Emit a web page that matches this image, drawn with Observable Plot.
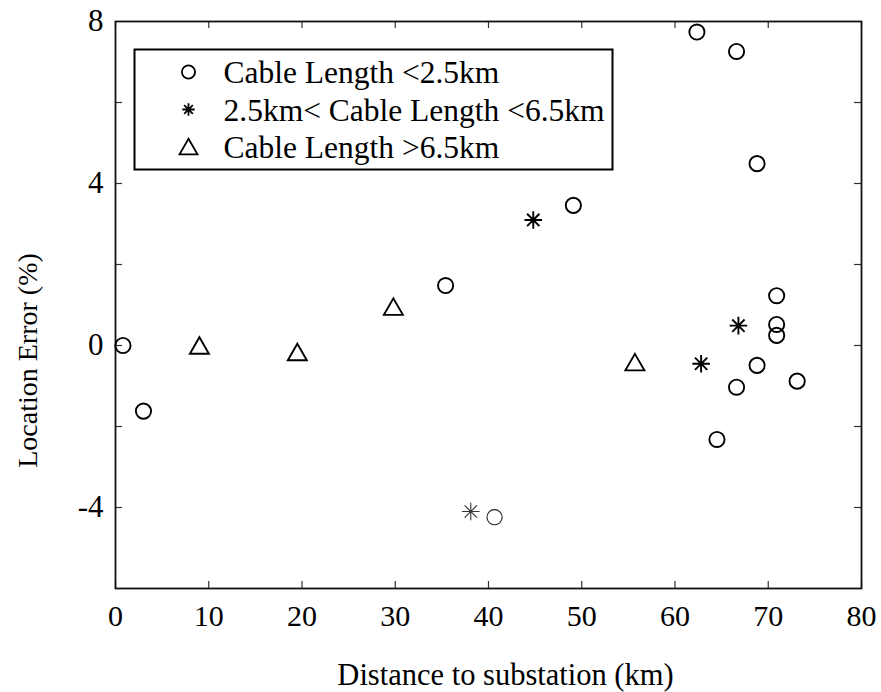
<!DOCTYPE html>
<html>
<head>
<meta charset="utf-8">
<script src="https://cdn.jsdelivr.net/npm/d3@7"></script>
<script src="https://cdn.jsdelivr.net/npm/@observablehq/plot@0.6"></script>
<style>
  html, body { margin: 0; padding: 0; background: white; }
</style>
</head>
<body>
<div id="chart"></div>
<script>
// ---- data ----
const circlesX = [0.8, 3.0, 35.4, 49.1, 62.35, 66.6, 68.8, 70.9, 70.9, 70.9, 68.8, 66.6, 73.1, 64.5, 40.65];
const circlesY = [0.0, -1.62, 1.48, 3.46, 7.74, 7.26, 4.49, 1.23, 0.52, 0.25, -0.49, -1.03, -0.88, -2.32, -4.24];
const starsX = [44.8, 66.8, 62.8, 38.1];
const starsY = [3.10, 0.49, -0.45, -4.10];
const trianglesX = [9.0, 19.5, 29.8, 55.7];
const trianglesY = [0.0, -0.16, 0.96, -0.41];

const legendLabels = ["Cable Length <2.5km", "2.5km< Cable Length <6.5km", "Cable Length >6.5km"];
const xTicks = [0, 10, 20, 30, 40, 50, 60, 70, 80];
const xTickLabels = ["0", "10", "20", "30", "40", "50", "60", "70", "80"];
const yMinorTicks = [-4, -2, 0, 2, 4, 6];
const yTicks = [-4, 0, 4, 8];
const yTickLabels = ["-4", "0", "4", "8"];
const xLabel = "Distance to substation (km)";
const yLabel = "Location Error (%)";

// ---- custom symbols ----
const starSymbol = {
  draw(ctx, size) {
    const r = Math.sqrt(size / Math.PI);
    const d = r * 0.7;
    ctx.moveTo(-r, 0); ctx.lineTo(r, 0);
    ctx.moveTo(0, -r); ctx.lineTo(0, r);
    ctx.moveTo(-d, -d); ctx.lineTo(d, d);
    ctx.moveTo(-d, d); ctx.lineTo(d, -d);
  }
};
const triangleSymbol = {
  draw(ctx, size) {
    const r = Math.sqrt(size / Math.PI);
    const h = Math.sqrt(3) * r;
    ctx.moveTo(0, -h / 2);
    ctx.lineTo(r, h / 2);
    ctx.lineTo(-r, h / 2);
    ctx.closePath();
  }
};

const circles = circlesX.map((x, i) => ({x, y: circlesY[i]}));
const stars = starsX.map((x, i) => ({x, y: starsY[i]}));
const triangles = trianglesX.map((x, i) => ({x, y: trianglesY[i]}));

const W = 881, H = 692;
const mL = 115, mR = 20, mT = 21, mB = 104;
const fw = W - mL - mR, fh = H - mT - mB;
const tick = 7;

const legendSymbols = ["circle", starSymbol, triangleSymbol];
const legendR = [6.6, 6.2, 9];
const legendDy = [50.5, 88, 125];

const legendMarks = [];
legendLabels.forEach((lab, i) => {
  legendMarks.push(Plot.dot([0], {
    frameAnchor: "top-left", dx: 73, dy: legendDy[i], r: legendR[i],
    symbol: legendSymbols[i], fill: "none", stroke: "black", strokeWidth: 1.8
  }));
  legendMarks.push(Plot.text([lab], {
    text: d => d, frameAnchor: "top-left", dx: 108, dy: legendDy[i] + 1,
    textAnchor: "start", lineAnchor: "middle", fontSize: 31.5
  }));
});

// rotated y-axis title, drawn as a render-function mark
function yTitle(index, scales, values, dim) {
  const cx = dim.marginLeft - 87;
  const cy = (dim.marginTop + dim.height - dim.marginBottom) / 2 + 56;
  return d3.create("svg:text")
    .attr("transform", `translate(${cx},${cy}) rotate(-90)`)
    .attr("text-anchor", "middle")
    .attr("dy", "0.32em")
    .attr("font-size", 28)
    .attr("fill", "black")
    .text(yLabel)
    .node();
}

const chart = Plot.plot({
  width: W, height: H,
  marginLeft: mL, marginRight: mR, marginTop: mT, marginBottom: mB,
  style: {fontFamily: "'Liberation Serif', 'Times New Roman', serif", fontSize: "30px", background: "white", color: "black", overflow: "visible"},
  x: {domain: [0, 80]},
  y: {domain: [-6, 8]},
  marks: [
    // ticks inward on all four sides
    Plot.tickX(xTicks, {x: d => d, insetTop: fh - tick, stroke: "#333", strokeWidth: 1.2}),
    Plot.tickX(xTicks, {x: d => d, insetBottom: fh - tick, stroke: "#333", strokeWidth: 1.2}),
    Plot.tickY(yMinorTicks, {y: d => d, insetRight: fw - tick, stroke: "#333", strokeWidth: 1.2}),
    Plot.tickY(yMinorTicks, {y: d => d, insetLeft: fw - tick, stroke: "#333", strokeWidth: 1.2}),
    Plot.axisX({ticks: xTicks, tickSize: 0, tickPadding: 16, label: null, fontSize: 30,
      tickFormat: d => xTickLabels[xTicks.indexOf(d)]}),
    Plot.axisY({ticks: yTicks, tickSize: 0, tickPadding: 12, label: null, fontSize: 31,
      tickFormat: d => yTickLabels[yTicks.indexOf(d)]}),
    Plot.frame({stroke: "#111", strokeWidth: 1.8}),
    // legend box
    Plot.frame({insetLeft: 19, insetTop: 28, insetRight: 249, insetBottom: 419, stroke: "black", strokeWidth: 2, fill: "white"}),
    ...legendMarks,
    // data
    Plot.dot(circles, {x: "x", y: "y", r: 7.6, symbol: "circle", fill: "none", stroke: "black", strokeWidth: 1.9,
      filter: (d, i) => i < circles.length - 1}),
    Plot.dot(circles, {x: "x", y: "y", r: 7.6, symbol: "circle", fill: "none", stroke: "#222", strokeWidth: 1.1,
      filter: (d, i) => i === circles.length - 1}),
    Plot.dot(stars, {x: "x", y: "y", r: 8.8, symbol: starSymbol, fill: "none", stroke: "black", strokeWidth: 1.9,
      filter: (d, i) => i < stars.length - 1}),
    Plot.dot(stars, {x: "x", y: "y", r: 8.8, symbol: starSymbol, fill: "none", stroke: "#333", strokeWidth: 1.1,
      filter: (d, i) => i === stars.length - 1}),
    Plot.dot(triangles, {x: "x", y: "y", r: 9.5, symbol: triangleSymbol, fill: "none", stroke: "black", strokeWidth: 1.9}),
    // axis titles
    Plot.text([xLabel], {text: d => d, frameAnchor: "bottom", dx: 17, dy: 87, lineAnchor: "middle",
      fontSize: 30.5}),
    yTitle
  ]
});
document.getElementById("chart").appendChild(chart);
</script>
</body>
</html>
